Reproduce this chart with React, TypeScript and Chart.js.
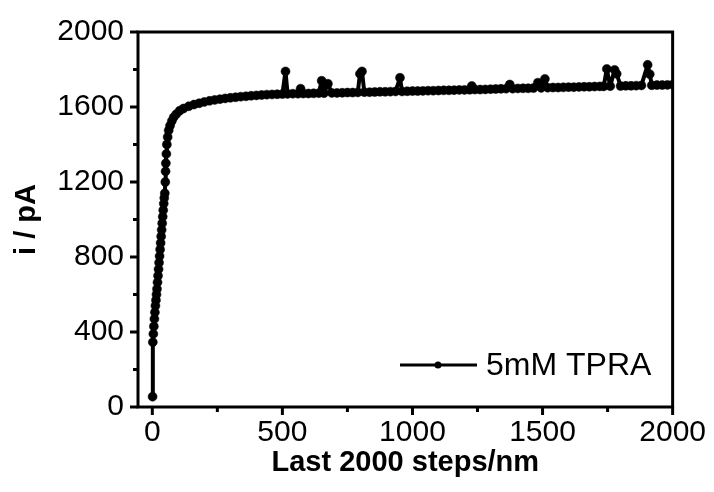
import React, { useEffect, useRef } from "react";
import { Chart, registerables } from "chart.js";

Chart.register(...registerables);

const xValues = [
  1, 2, 4, 6, 8, 10, 12, 14, 16, 18, 20, 22, 24, 26, 28, 30, 32, 34, 36, 38, 40, 42, 44, 46, 48, 50, 51, 52, 54, 56, 59, 63,
  68, 75, 82, 92, 105, 120, 140, 160, 180, 200, 220, 240, 260, 280, 300, 320, 340, 360, 380, 400, 420, 440, 460, 480, 500,
  512, 520, 540, 560, 570, 580, 600, 620, 640, 651, 660, 675, 690, 710, 730, 750, 770, 790, 798, 806, 815, 835, 855, 875,
  895, 915, 935, 952, 960, 980, 1000, 1020, 1040, 1060, 1080, 1100, 1120, 1140, 1160, 1180, 1200, 1220, 1228, 1240, 1260,
  1280, 1300, 1320, 1340, 1360, 1374, 1385, 1405, 1425, 1445, 1465, 1482, 1495, 1509, 1520, 1540, 1560, 1580, 1600, 1620,
  1640, 1660, 1680, 1700, 1720, 1735, 1747, 1760, 1777, 1785, 1800, 1820, 1840, 1860, 1880, 1904, 1912, 1920, 1940, 1960,
  1980, 2000,
];
const yValues = [
  55, 346, 390, 430, 470, 505, 540, 570, 600, 630, 665, 700, 735, 770, 805, 840, 875, 910, 945, 980, 1015, 1050, 1085, 1115,
  1140, 1200, 1257, 1300, 1350, 1400, 1440, 1475, 1500, 1525, 1545, 1562, 1580, 1592, 1604, 1613, 1620, 1627, 1633, 1638,
  1642, 1646, 1649, 1652, 1655, 1657, 1660, 1662, 1664, 1666, 1667, 1668, 1669, 1790, 1670, 1671, 1671, 1698, 1672, 1672,
  1673, 1674, 1740, 1674, 1724, 1675, 1675, 1676, 1677, 1677, 1678, 1777, 1790, 1679, 1679, 1680, 1681, 1681, 1682, 1683,
  1756, 1683, 1684, 1685, 1685, 1686, 1687, 1687, 1688, 1689, 1689, 1690, 1691, 1691, 1692, 1712, 1693, 1693, 1694, 1695,
  1696, 1697, 1698, 1720, 1698, 1699, 1700, 1700, 1701, 1730, 1702, 1750, 1703, 1704, 1704, 1705, 1706, 1706, 1707, 1708,
  1708, 1709, 1710, 1710, 1803, 1711, 1798, 1777, 1712, 1713, 1713, 1714, 1715, 1825, 1775, 1716, 1717, 1717, 1718, 1719,
];

const xTicks = [0, 500, 1000, 1500, 2000];
const xMinorTicks = [250, 750, 1250, 1750];
const yTicks = [0, 400, 800, 1200, 1600, 2000];
const yMinorTicks = [200, 600, 1000, 1400, 1800];

const seriesLabel = "5mM TPRA";
const xTitle = "Last 2000 steps/nm";
const yTitle = "i / pA";

const FONT = '"Liberation Sans", Arial, Helvetica, sans-serif';

export default function App() {
  const ref = useRef<HTMLCanvasElement>(null);

  useEffect(() => {
    if (!ref.current) return;
    Chart.defaults.font.family = FONT;

    const framePlugin = {
      id: "frame",
      afterDraw(chart: any) {
        const { ctx, chartArea, scales } = chart;
        const { left, right, top, bottom } = chartArea;
        ctx.save();
        ctx.strokeStyle = "#000";
        ctx.fillStyle = "#000";
        ctx.lineWidth = 3;
        ctx.lineJoin = "miter";
        ctx.strokeRect(left, top, right - left, bottom - top);

        const line = (x1: number, y1: number, x2: number, y2: number) => {
          ctx.beginPath();
          ctx.moveTo(x1, y1);
          ctx.lineTo(x2, y2);
          ctx.stroke();
        };
        xTicks.forEach((v) => {
          const px = scales.x.getPixelForValue(v);
          line(px, bottom, px, bottom + 8);
        });
        xMinorTicks.forEach((v) => {
          const px = scales.x.getPixelForValue(v);
          line(px, bottom, px, bottom + 5);
        });
        yTicks.forEach((v) => {
          const py = scales.y.getPixelForValue(v);
          line(left, py, left - 8, py);
        });
        yMinorTicks.forEach((v) => {
          const py = scales.y.getPixelForValue(v);
          line(left, py, left - 5, py);
        });

        // legend
        const ly = 365;
        ctx.lineWidth = 3;
        line(400, ly, 477, ly);
        ctx.beginPath();
        ctx.arc(438, ly, 3.5, 0, Math.PI * 2);
        ctx.fill();
        ctx.font = `32px ${FONT}`;
        ctx.textBaseline = "middle";
        ctx.textAlign = "left";
        ctx.fillText(seriesLabel, 486, ly + 1);
        ctx.restore();
      },
    };

    const chart = new Chart(ref.current, {
      type: "line",
      data: {
        datasets: [
          {
            label: seriesLabel,
            data: xValues.map((x, i) => ({ x, y: yValues[i] })),
            borderColor: "#000",
            backgroundColor: "#000",
            borderWidth: 4,
            borderJoinStyle: "round",
            borderCapStyle: "round",
            pointRadius: 4.5,
            pointBorderWidth: 0.5,
            pointBackgroundColor: "#000",
            pointBorderColor: "#000",
            tension: 0,
          },
        ],
      },
      options: {
        responsive: false,
        animation: false,
        devicePixelRatio: 1,
        layout: { padding: { top: 30, right: 41, left: 0, bottom: 0 } },
        plugins: { legend: { display: false }, tooltip: { enabled: false } },
        scales: {
          x: {
            type: "linear",
            min: -55,
            max: 2000,
            afterBuildTicks: (s: any) => {
              s.ticks = xTicks.map((v) => ({ value: v }));
            },
            afterFit: (s: any) => {
              s.height = 85;
            },
            grid: { display: false, drawTicks: false },
            border: { display: false },
            ticks: {
              color: "#000",
              font: { size: 30 },
              padding: 8,
              maxRotation: 0,
              autoSkip: false,
              callback: (v: any) => String(v),
            },
            title: {
              display: true,
              text: xTitle,
              color: "#000",
              font: { size: 29, weight: "bold" },
              padding: { top: 0, bottom: 12 },
            },
          },
          y: {
            type: "linear",
            min: 0,
            max: 2000,
            afterBuildTicks: (s: any) => {
              s.ticks = yTicks.map((v) => ({ value: v }));
            },
            afterFit: (s: any) => {
              s.width = 138;
            },
            grid: { display: false, drawTicks: false },
            border: { display: false },
            ticks: {
              color: "#000",
              font: { size: 30 },
              padding: 14,
              autoSkip: false,
              callback: (v: any) => String(v),
            },
            title: {
              display: true,
              text: yTitle,
              color: "#000",
              font: { size: 29, weight: "bold" },
              padding: { top: 10, bottom: 0 },
            },
          },
        },
      },
      plugins: [framePlugin],
    } as any);

    return () => chart.destroy();
  }, []);

  return (
    <div style={{ position: "fixed", left: 0, top: 0, width: 714, height: 492, background: "#fff" }}>
      <canvas ref={ref} width={714} height={492} style={{ width: 714, height: 492, display: "block" }} />
    </div>
  );
}
